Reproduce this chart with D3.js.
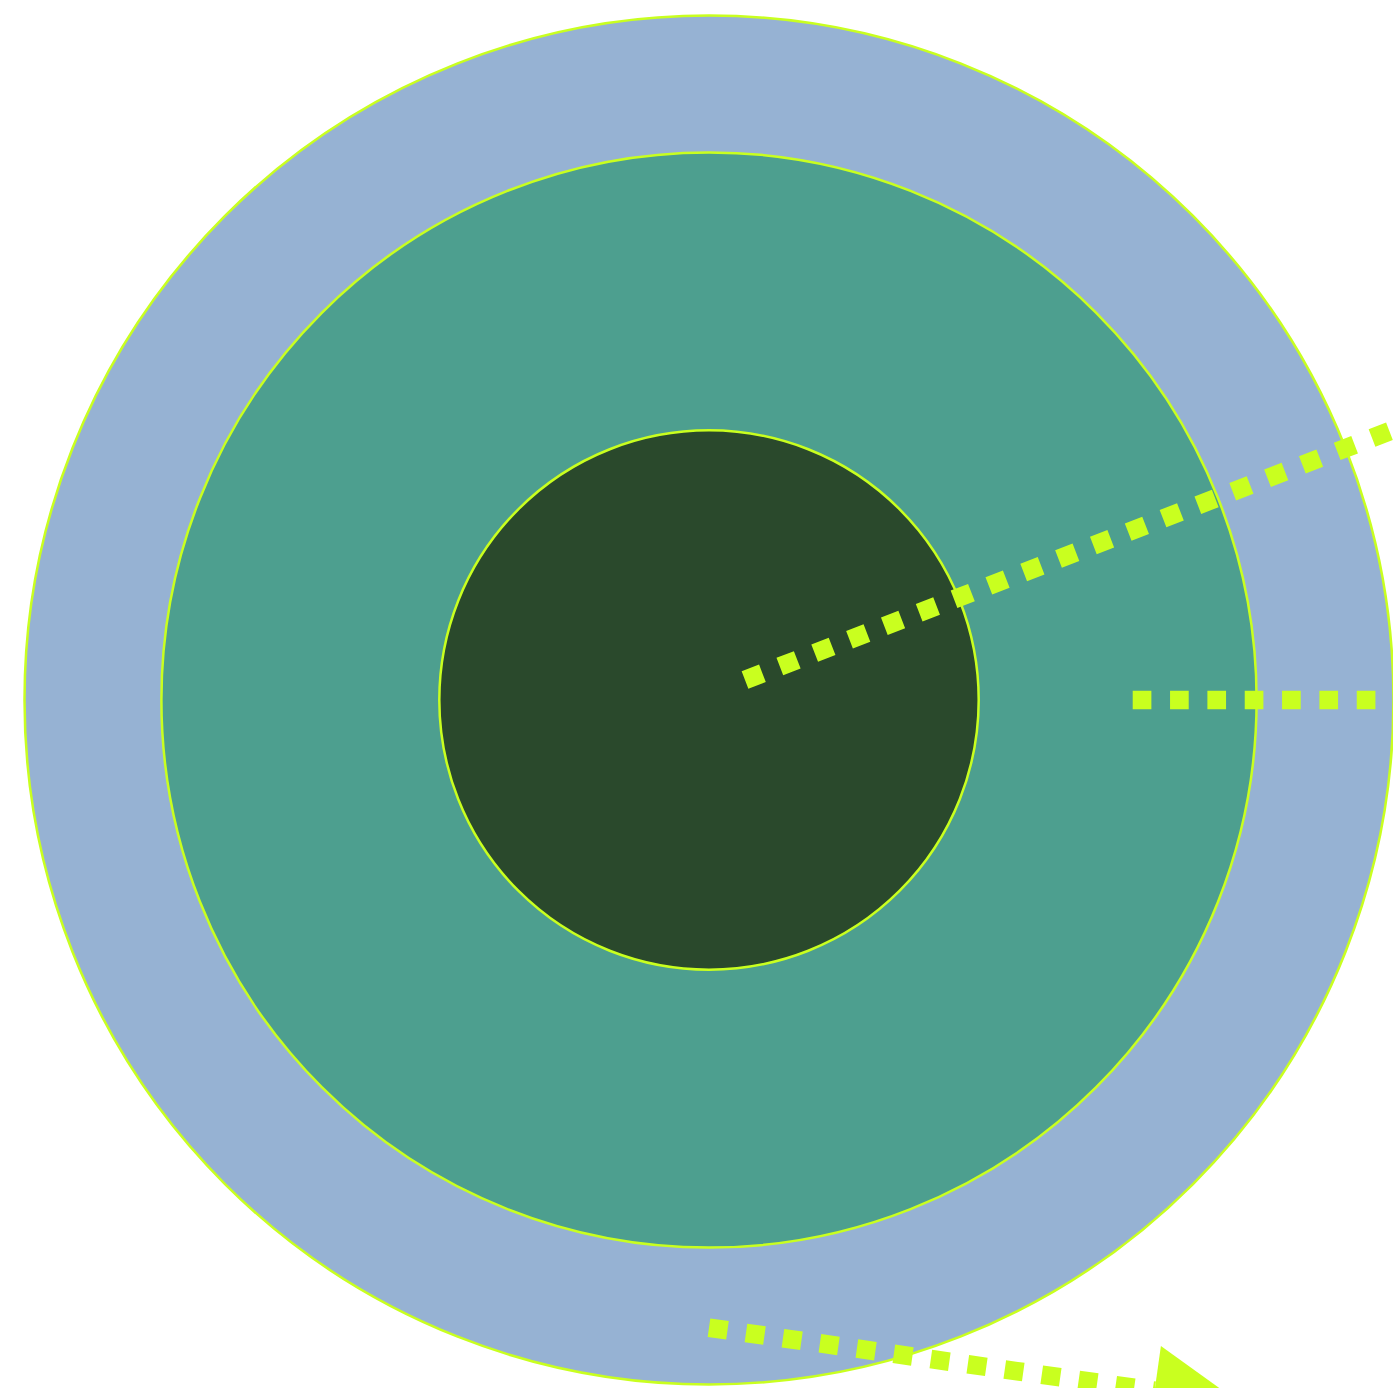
<!DOCTYPE html>
<html>
<head>
<meta charset="utf-8">
<script src="https://cdn.jsdelivr.net/npm/d3@7"></script>
<style>
  body { margin: 0; background: #fff; }
  svg { display: block; }
</style>
</head>
<body>
<div id="viz"></div>
<script>
// rings, largest first
const ringNames = ["outer", "middle", "inner"];
const ringValues = [100, 80, 39.4];

// dotted rules in chart units (center = 0,0)
const ruleNames = ["diagonal", "horizontal", "bottom"];
const ruleStart = [[5.26, 2.92], [61.9, 0], [0, -91.7]];
const ruleEnd = [[103.9, 41.0], [102, 0], [65.1, -100.9]];
const ruleArrow = [false, false, true];

const width = 1393,
  height = 1388,
  cx = 709,
  cy = 700,
  R = 684.5;

const lime = "#c9ff1f";

const color = d3
  .scaleOrdinal()
  .domain(ringNames)
  .range(["#96b2d3", "#4d9f8f", "#2a492c"]);

const r = d3.scaleLinear().domain([0, 100]).range([0, R]);
const x = d3.scaleLinear().domain([-100, 100]).range([cx - R, cx + R]);
const y = d3.scaleLinear().domain([-100, 100]).range([cy + R, cy - R]);

const svg = d3
  .select("#viz")
  .append("svg")
  .attr("width", width)
  .attr("height", height);

svg
  .selectAll("circle.ring")
  .data(ringValues)
  .enter()
  .append("circle")
  .attr("class", "ring")
  .attr("cx", x(0))
  .attr("cy", y(0))
  .attr("r", d => r(d))
  .attr("fill", (d, i) => color(ringNames[i]))
  .attr("stroke", lime)
  .attr("stroke-width", 2.5);

const dash = 18.67;

svg
  .selectAll("line.rule")
  .data(ruleNames)
  .enter()
  .append("line")
  .attr("class", "rule")
  .attr("x1", (d, i) => x(ruleStart[i][0]))
  .attr("y1", (d, i) => y(ruleStart[i][1]))
  .attr("x2", (d, i) => x(ruleEnd[i][0]))
  .attr("y2", (d, i) => y(ruleEnd[i][1]))
  .attr("stroke", lime)
  .attr("stroke-width", dash)
  .attr("stroke-dasharray", `${dash},${dash}`);

// arrow heads at the end of rules that have one
const headHalf = 45,
  headLen = 86;

svg
  .selectAll("path.head")
  .data(ruleNames.filter((d, i) => ruleArrow[i]))
  .enter()
  .append("path")
  .attr("class", "head")
  .attr("d", d => {
    const i = ruleNames.indexOf(d);
    const x1 = x(ruleStart[i][0]), y1 = y(ruleStart[i][1]);
    const x2 = x(ruleEnd[i][0]), y2 = y(ruleEnd[i][1]);
    const len = Math.hypot(x2 - x1, y2 - y1);
    const ux = (x2 - x1) / len, uy = (y2 - y1) / len;
    const p = d3.path();
    p.moveTo(x2 - uy * headHalf, y2 + ux * headHalf);
    p.lineTo(x2 + ux * headLen, y2 + uy * headLen);
    p.lineTo(x2 + uy * headHalf, y2 - ux * headHalf);
    p.closePath();
    return p.toString();
  })
  .attr("fill", lime);
</script>
</body>
</html>
